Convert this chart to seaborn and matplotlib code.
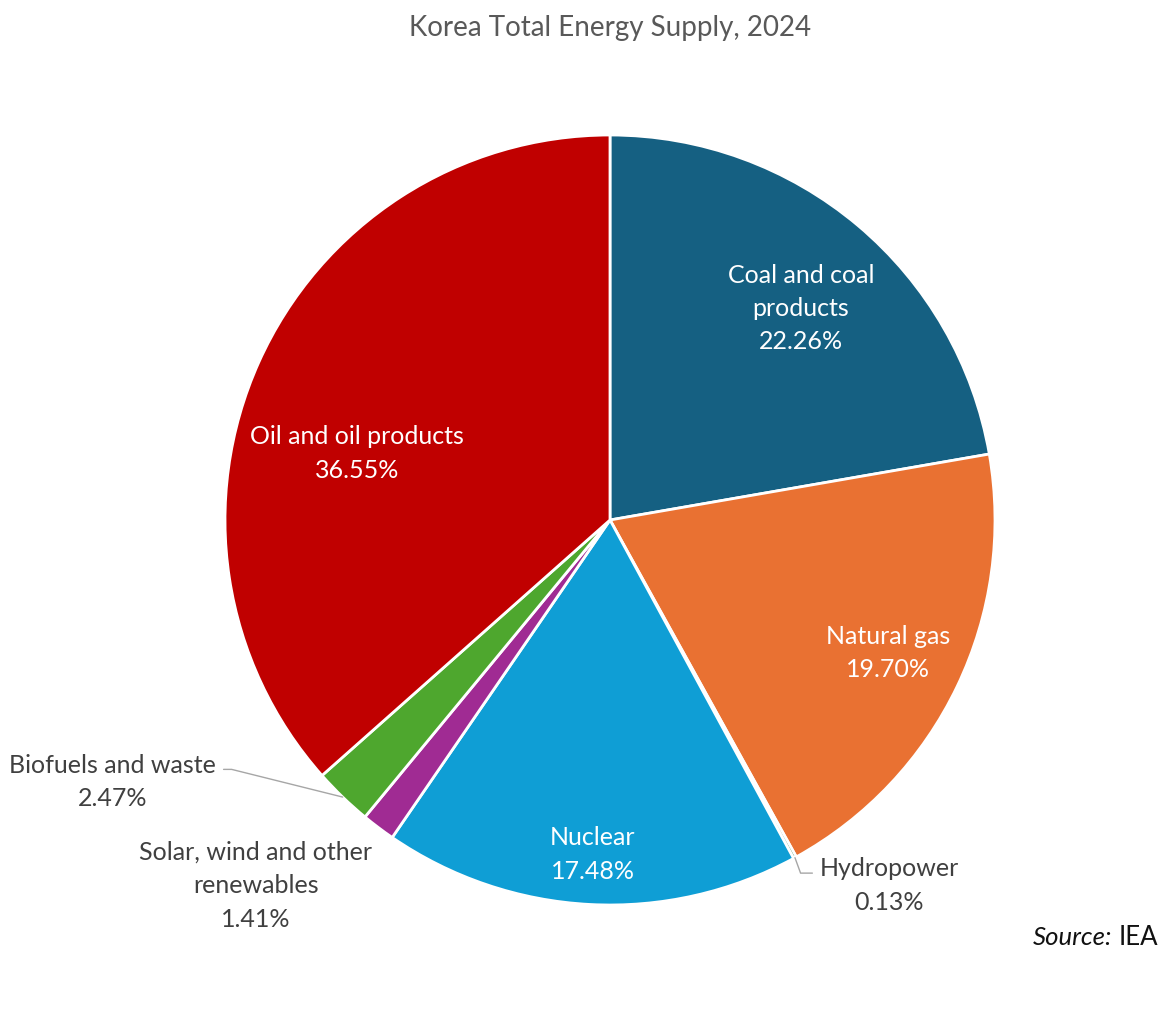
import numpy as np
import matplotlib
matplotlib.use("Agg")
import matplotlib.pyplot as plt
import seaborn as sns

sources = ["Coal and coal\nproducts", "Natural gas", "Hydropower", "Nuclear",
           "Solar, wind and other\nrenewables", "Biofuels and waste", "Oil and oil products"]
shares = [22.26, 19.70, 0.13, 17.48, 1.41, 2.47, 36.55]
hex_colors = ["#156082", "#E97132", "#196B24", "#0F9ED5", "#A02B93", "#4EA72E", "#C00000"]


def main():
    sns.set_theme(style="white")
    plt.rcParams["font.family"] = ["Lato", "DejaVu Sans"]
    palette = sns.color_palette(hex_colors)

    fig = plt.figure(figsize=(11.73, 10.25), dpi=100)
    ax = fig.add_axes([225 / 1173, 120 / 1025, 770 / 1173, 770 / 1025])

    wedges, _ = ax.pie(shares, colors=palette, startangle=90, counterclock=False,
                       wedgeprops=dict(edgecolor="white", linewidth=2))
    ax.set_xlim(-1, 1)
    ax.set_ylim(-1, 1)
    ax.set_aspect("equal")

    # inside labels: (slice index, radius, angle shift in degrees)
    inside = {0: (0.74, -2), 1: (0.80, 0), 3: (0.87, 0), 6: (0.68, 9.5)}
    for i, (r, shift) in inside.items():
        w = wedges[i]
        ang = np.deg2rad((w.theta1 + w.theta2) / 2 + shift)
        ax.text(r * np.cos(ang), r * np.sin(ang),
                f"{sources[i]}\n{shares[i]:.2f}%", ha="center", va="center",
                color="white", fontsize=18, linespacing=1.55)

    grey = "#404040"
    # Biofuels and waste (leader line)
    w = wedges[5]
    ang = np.deg2rad((w.theta1 + w.theta2) / 2)
    ax.annotate(f"{sources[5]}\n{shares[5]:.2f}%", xy=(np.cos(ang), np.sin(ang)),
                xytext=(-1.023, -0.68), ha="right", va="center",
                fontsize=18, color=grey, linespacing=1.55, annotation_clip=False,
                multialignment="center",
                arrowprops=dict(arrowstyle="-", color="#a6a6a6", lw=1,
                                shrinkA=3, shrinkB=0, relpos=(1.0, 0.72),
                                connectionstyle="angle,angleA=0,angleB=166,rad=0"))

    # Solar (no leader line)
    ax.text(-0.92, -0.95, f"{sources[4]}\n{shares[4]:.2f}%", ha="center", va="center",
            fontsize=18, color=grey, linespacing=1.55)

    # Hydropower (leader line)
    w = wedges[2]
    ang = np.deg2rad((w.theta1 + w.theta2) / 2)
    ax.annotate(f"{sources[2]}\n{shares[2]:.2f}%", xy=(np.cos(ang), np.sin(ang)),
                xytext=(0.545, -0.95), ha="left", va="center",
                fontsize=18, color=grey, linespacing=1.6, annotation_clip=False,
                multialignment="center",
                arrowprops=dict(arrowstyle="-", color="#a6a6a6", lw=1,
                                shrinkA=3, shrinkB=0, relpos=(0.0, 0.72),
                                connectionstyle="angle,angleA=0,angleB=110,rad=0"))

    fig.text(0.52, 1 - 28 / 1025, "Korea Total Energy Supply, 2024", ha="center",
             va="center", fontsize=20, color="#595959")

    # source note: italic "Source:" followed by upright "IEA"
    src = fig.text(1158 / 1173, 1 - 945 / 1025, "IEA", ha="right", va="baseline",
                   fontsize=18.5, color="#111111")
    fig.canvas.draw()
    bb = src.get_window_extent(fig.canvas.get_renderer())
    fig.text((bb.x0 - 6) / fig.bbox.width, 1 - 945 / 1025, "Source:", ha="right",
             va="baseline", fontsize=18.5, color="#111111", style="italic")

    fig.savefig("out.png", dpi=100)


if __name__ == "__main__":
    main()
